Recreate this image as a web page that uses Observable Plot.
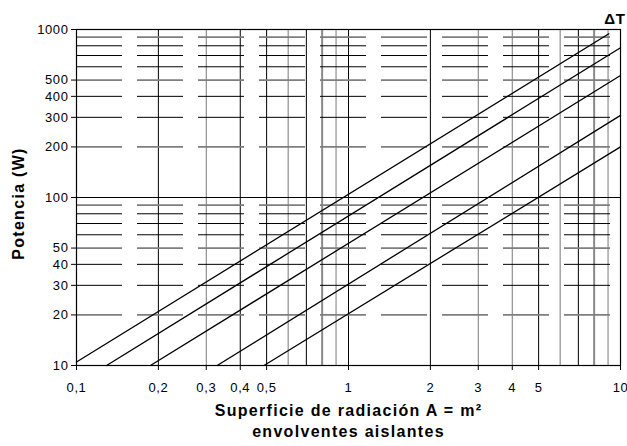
<!DOCTYPE html>
<html>
<head>
<meta charset="utf-8">
<script src="https://cdn.jsdelivr.net/npm/d3@7"></script>
<script src="https://cdn.jsdelivr.net/npm/@observablehq/plot@0.6"></script>
<style>
  html, body { margin: 0; padding: 0; background: #fff; }
  #chart svg { display: block; }
</style>
</head>
<body>
<div id="chart"></div>
<script>
// Axis ticks
const xTickValues = [0.1, 0.2, 0.3, 0.4, 0.5, 1, 2, 3, 4, 5, 10];
const xTickLabels = ["0,1", "0,2", "0,3", "0,4", "0,5", "1", "2", "3", "4", "5", "10"];
const yTickValues = [10, 20, 30, 40, 50, 100, 200, 300, 400, 500, 1000];

// Grid lines
const xGridDark = [0.2, 0.4, 0.5, 0.7, 1, 2, 5, 7];
const xGridGray = [0.3, 0.6, 0.9, 3, 4, 6, 9];
const xGridGrayThick = [0.8, 8];
const yGridDark = [30, 40, 60, 70, 80, 300, 400, 600, 700, 800];
const yGridGray = [20, 50, 90, 200, 500, 900];
const yGridSolid = [100];

// Lines (start and end points, A in m², P in W)
const lineIds = ["1", "2", "3", "4", "5"];
const lineStartA = [0.1, 0.129, 0.187, 0.329, 0.489];
const lineStartP = [10.5, 10, 10, 10, 10];
const lineEndA = [9.06, 10, 10, 10, 10];
const lineEndP = [943, 778, 532, 308, 200];

const lineData = lineIds.flatMap((id, i) => [
  {id, A: lineStartA[i], P: lineStartP[i]},
  {id, A: lineEndA[i], P: lineEndP[i]}
]);

const yTitle = "Potencia (W)";
const xTitle1 = "Superficie de radiación A = m²";
const xTitle2 = "envolventes aislantes";

const font = "'Liberation Sans', Arial, Helvetica, sans-serif";

const chart = Plot.plot({
  width: 627,
  height: 446,
  marginLeft: 76,
  marginRight: 7,
  marginTop: 29,
  marginBottom: 81,
  style: {fontFamily: font, fontSize: "13px", color: "#000", background: "#fff", overflow: "visible", letterSpacing: "0.6px"},
  x: {type: "log", domain: [0.1, 10]},
  y: {type: "log", domain: [10, 1000]},
  marks: [
    Plot.ruleX(xGridGray, {stroke: "#7a7a7a", strokeWidth: 1}),
    Plot.ruleX(xGridGrayThick, {stroke: "#8a8a8a", strokeWidth: 2}),
    Plot.ruleX(xGridDark, {stroke: "#000", strokeWidth: 1}),
    Plot.ruleY(yGridGray, {stroke: "#7f7f7f", strokeWidth: 1.8, strokeDasharray: "46,15"}),
    Plot.ruleY(yGridDark, {stroke: "#000", strokeWidth: 1, strokeDasharray: "46,15"}),
    Plot.ruleY(yGridSolid, {stroke: "#000", strokeWidth: 1}),
    Plot.line(lineData, {x: "A", y: "P", z: "id", stroke: "#000", strokeWidth: 1.3}),
    Plot.frame({stroke: "#000", strokeWidth: 1.2}),
    Plot.axisX({ticks: xTickValues, tickFormat: d => xTickLabels[xTickValues.indexOf(d)], tickSize: 5, tickPadding: 12, fontSize: 13, label: null}),
    Plot.axisY({ticks: yTickValues, tickFormat: d => String(d), tickSize: 5, tickPadding: 3, fontSize: 13, label: null}),
    Plot.text([yTitle], {frameAnchor: "left", textAnchor: "middle", rotate: -90, dx: -58, dy: 6, fontWeight: "bold", fontSize: 16}),
    Plot.text([xTitle1], {frameAnchor: "bottom", dy: 50, fontWeight: "bold", fontSize: 16}),
    Plot.text([xTitle2], {frameAnchor: "bottom", dy: 71, fontWeight: "bold", fontSize: 16}),
    Plot.text(["ΔT"], {frameAnchor: "top-right", dx: 5, dy: -16, textAnchor: "end", fontWeight: "bold", fontSize: 15})
  ]
});
d3.select(chart).selectAll("text")
  .filter(function() { return [yTitle, xTitle1, xTitle2].includes(this.textContent); })
  .style("letter-spacing", "1.3px");
document.getElementById("chart").appendChild(chart);
</script>
</body>
</html>
